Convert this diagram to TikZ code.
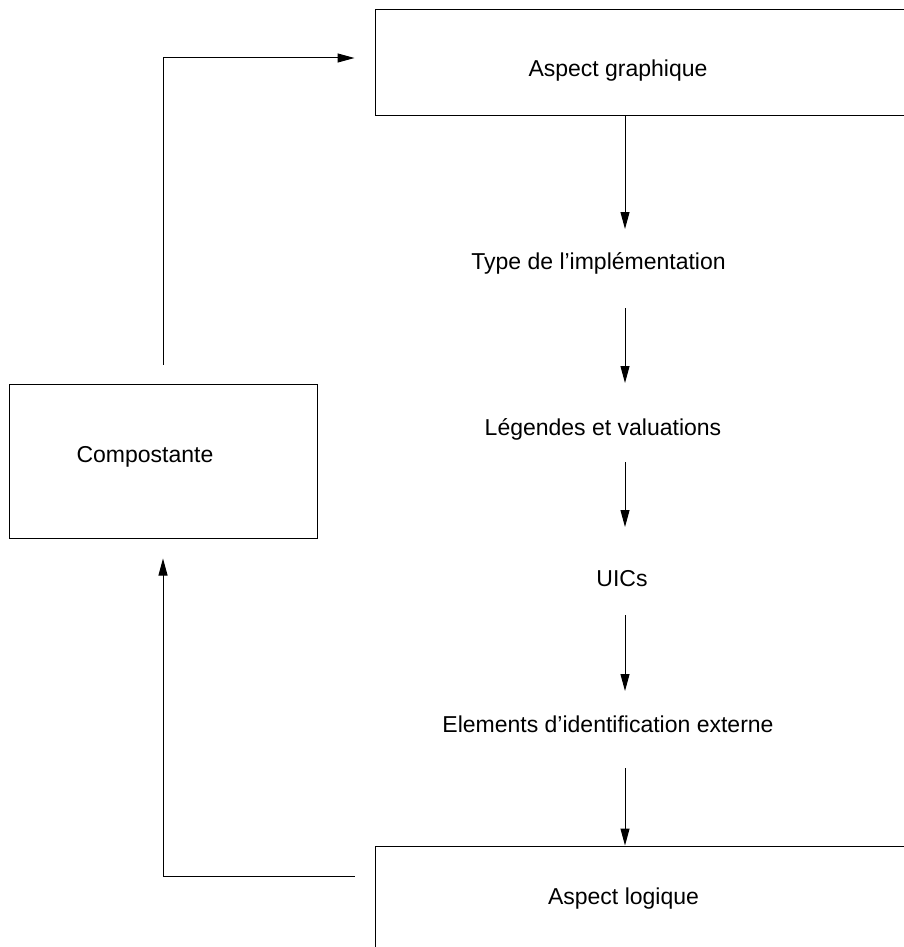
\documentclass[tikz,border=0pt]{standalone}
\usepackage{fontspec}
\setmainfont{Liberation Sans}
\usetikzlibrary{arrows.meta}

\begin{document}
\begin{tikzpicture}[
    x=1pt, y=-1pt,
    >={Triangle[length=17pt, width=9pt]},
    font=\fontsize{23}{27}\selectfont,
    box/.style={draw, line width=1pt, inner sep=0pt},
    txt/.style={inner sep=0pt, anchor=base},
    arrow/.style={->, line width=1pt}
  ]
    \useasboundingbox (0,0) rectangle (903,947);
    \node[box, minimum width=625pt, minimum height=106pt] (graph) at (687.5,63) {};
    \node[box, minimum width=625pt, minimum height=154pt] (logic) at (687.5,923) {};
    \node[box, minimum width=308pt, minimum height=154pt] (comp) at (163,461) {};
    \node[txt] (graphtxt) at (618,77) {Aspect graphique};
    \node[txt] (logictxt) at (623.5,904) {Aspect logique};
    \node[txt] (comptxt) at (145,462) {Compostante};
    \node[txt] (type) at (598.5,269) {Type de l’implémentation};
    \node[txt] (leg) at (603,435) {Légendes et valuations};
    \node[txt] (uic) at (622,586) {UICs};
    \node[txt] (elem) at (608,732) {Elements d’identification externe};
    \coordinate (col) at (625,0);

    \draw[arrow] (graph.south -| col) -- ([yshift=40pt]type.base -| col);
    \draw[arrow] ([yshift=-39pt]type.base -| col) -- ([yshift=52pt]leg.base -| col);
    \draw[arrow] ([yshift=-27pt]leg.base -| col) -- ([yshift=59pt]uic.base -| col);
    \draw[arrow] ([yshift=-29pt]uic.base -| col) -- ([yshift=41pt]elem.base -| col);
    \draw[arrow] ([yshift=-36pt]elem.base -| col) -- (logic.north -| col);
    \draw[arrow] ([yshift=19pt]comp.north) |- ([xshift=-20pt,yshift=5pt]graph.west);
    \draw[arrow] ([xshift=-20pt,yshift=47pt]logic.west) -| ([yshift=-20pt]comp.south);
\end{tikzpicture}
\end{document}
